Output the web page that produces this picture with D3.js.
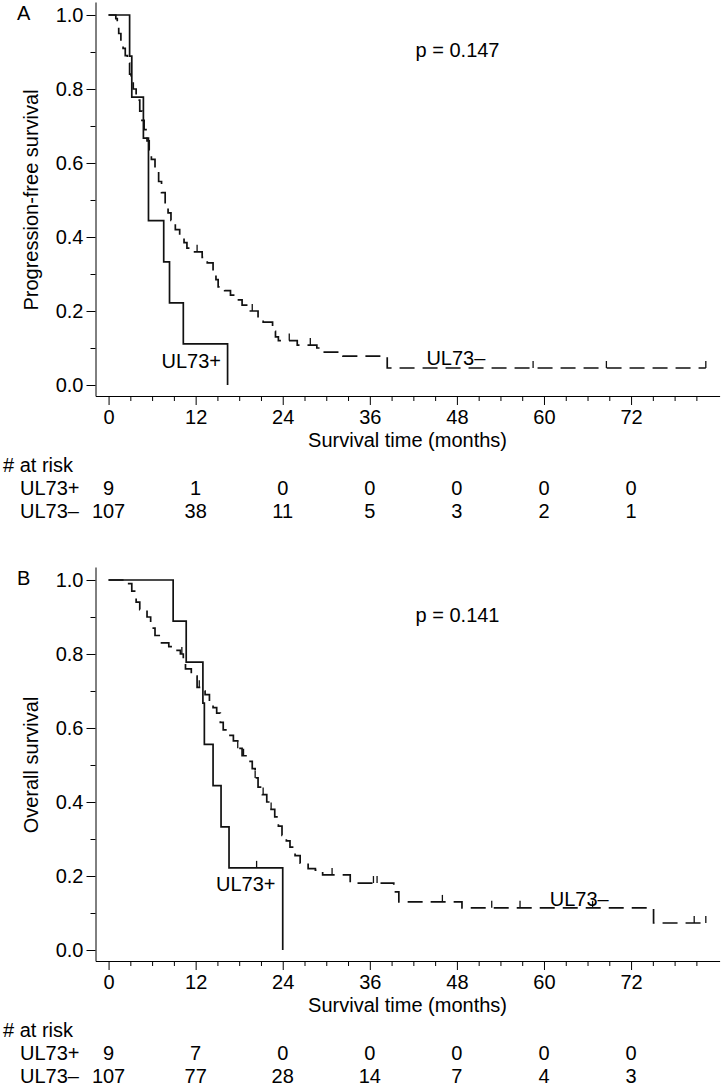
<!DOCTYPE html>
<html>
<head>
<meta charset="utf-8">
<script src="https://cdn.jsdelivr.net/npm/d3@7"></script>
<style>
  html, body { margin: 0; padding: 0; background: #fff; }
  svg text { font-family: "Liberation Sans", Arial, Helvetica, sans-serif; fill: #000; }
</style>
</head>
<body>
<svg id="chart" width="722" height="1085"></svg>
<script>
// ---------------- DATA ----------------
const xMajorTicks = [0, 12, 24, 36, 48, 60, 72];
const yMajorTicks = [0, 0.2, 0.4, 0.6, 0.8, 1.0];
const groups = ["UL73+", "UL73\u2013"];

// Panel A: progression-free survival
const pfsPosTimes = [0, 2.9, 3.2, 4.8, 5.5, 5.5, 7.6, 8.4, 10.3, 16.4];
const pfsPosSurv  = [1, 0.889, 0.778, 0.667, 0.556, 0.444, 0.333, 0.222, 0.111, 0];
const pfsPosCensor = [];

const pfsNegTimes = [0, 1.0, 1.2, 1.4, 1.7, 2.0, 2.3, 2.6, 2.9, 3.1, 3.4, 3.8, 4.3, 4.6, 4.9, 5.3, 5.6, 5.9, 6.4, 6.9, 7.3, 7.8, 8.2, 8.6, 9.2, 9.8, 10.4, 10.8, 11.6, 12.9, 13.6, 14.4, 14.8, 15.1, 16.0, 16.8, 17.6, 18.4, 19.3, 20.6, 21.3, 22.6, 23.0, 23.4, 26.0, 28.7, 29.6, 32.3, 38.4, 82.3];
const pfsNegSurv  = [1, 0.99, 0.97, 0.95, 0.93, 0.91, 0.89, 0.87, 0.84, 0.82, 0.80, 0.77, 0.74, 0.715, 0.69, 0.66, 0.635, 0.61, 0.58, 0.55, 0.52, 0.49, 0.465, 0.445, 0.42, 0.40, 0.385, 0.37, 0.36, 0.345, 0.33, 0.305, 0.285, 0.265, 0.255, 0.243, 0.23, 0.216, 0.20, 0.18, 0.17, 0.145, 0.13, 0.12, 0.108, 0.10, 0.089, 0.078, 0.046, 0.046];
const pfsNegCensor = [12.2, 19.8, 24.9, 27.8, 58.5, 68.6, 82.3];

const pfsRiskPos = [9, 1, 0, 0, 0, 0, 0];
const pfsRiskNeg = [107, 38, 11, 5, 3, 2, 1];

// Panel B: overall survival
const osPosTimes = [0, 8.9, 10.7, 13.0, 13.2, 14.4, 15.5, 16.6, 24.0];
const osPosSurv  = [1, 0.889, 0.778, 0.667, 0.556, 0.444, 0.333, 0.222, 0];
const osPosCensor = [20.4];

const osNegTimes = [0, 2.6, 3.2, 3.8, 4.3, 5.3, 5.8, 6.4, 7.3, 8.3, 9.0, 9.9, 10.3, 10.6, 11.4, 12.2, 12.8, 13.3, 13.9, 14.4, 14.9, 15.4, 15.8, 16.4, 17.2, 17.8, 18.4, 19.1, 19.8, 20.2, 20.6, 21.2, 21.8, 22.4, 22.9, 23.4, 23.9, 24.5, 25.0, 25.7, 26.4, 27.5, 28.5, 29.5, 33.3, 39.3, 40.0, 48.7, 75.1, 82.3];
const osNegSurv  = [1, 0.99, 0.97, 0.94, 0.92, 0.90, 0.87, 0.85, 0.83, 0.82, 0.81, 0.80, 0.78, 0.76, 0.74, 0.71, 0.70, 0.69, 0.67, 0.655, 0.64, 0.615, 0.595, 0.58, 0.565, 0.545, 0.525, 0.51, 0.49, 0.465, 0.44, 0.42, 0.40, 0.38, 0.36, 0.335, 0.31, 0.295, 0.278, 0.255, 0.235, 0.22, 0.216, 0.203, 0.181, 0.157, 0.13, 0.114, 0.073, 0.073];
const osNegCensor = [10.1, 12.5, 17.8, 18.6, 20.2, 21.3, 22.4, 30.8, 36.5, 37.0, 46.0, 52.8, 56.7, 66.7, 80.7, 82.3];

const osRiskPos = [9, 7, 0, 0, 0, 0, 0];
const osRiskNeg = [107, 77, 28, 14, 7, 4, 3];

const panels = [
  { letter: "A", ylab: "Progression-free survival", p: "p = 0.147", oy: 0,
    pos: { t: pfsPosTimes, s: pfsPosSurv, c: pfsPosCensor, lab: [7.3, 0.046] },
    neg: { t: pfsNegTimes, s: pfsNegSurv, c: pfsNegCensor, lab: [43.8, 0.054] },
    risk: [pfsRiskPos, pfsRiskNeg] },
  { letter: "B", ylab: "Overall survival", p: "p = 0.141", oy: 565,
    pos: { t: osPosTimes, s: osPosSurv, c: osPosCensor, lab: [14.8, 0.159] },
    neg: { t: osNegTimes, s: osNegSurv, c: osNegCensor, lab: [60.8, 0.119] },
    risk: [osRiskPos, osRiskNeg] }
];

// ---------------- DRAW ----------------
const svg = d3.select("#chart");
const fs = 20;
const x = d3.scaleLinear().domain([-1.8, 84.2]).range([95.5, 719.6]);
const xMinor = d3.range(3, 84, 3).filter(v => v % 12 !== 0);
const yMinor = [0.1, 0.3, 0.5, 0.7, 0.9];

panels.forEach(P => {
  const g = svg.append("g").attr("transform", `translate(0,${P.oy})`);
  const y = d3.scaleLinear().domain([-0.0297, 1.0351]).range([396, 2]);

  // x axis
  g.append("g").attr("transform", `translate(0,${y(-0.0297)})`)
    .call(d3.axisBottom(x).tickValues(xMajorTicks).tickSize(9).tickSizeOuter(0).tickPadding(5).tickFormat(d3.format("d")));
  g.append("g").attr("transform", `translate(0,${y(-0.0297)})`)
    .call(d3.axisBottom(x).tickValues(xMinor).tickSize(5).tickFormat(""))
    .select(".domain").remove();
  // y axis
  g.append("g").attr("transform", `translate(${x(-1.8)},0)`)
    .call(d3.axisLeft(y).tickValues(yMajorTicks).tickSize(9).tickSizeOuter(0).tickPadding(3).tickFormat(d3.format(".1f")));
  g.append("g").attr("transform", `translate(${x(-1.8)},0)`)
    .call(d3.axisLeft(y).tickValues(yMinor).tickSize(5).tickFormat(""))
    .select(".domain").remove();
  g.selectAll(".tick text").attr("font-size", fs).attr("font-family", '"Liberation Sans", Arial, sans-serif');
  g.selectAll(".domain, .tick line").attr("stroke", "#000").attr("stroke-width", 1);

  // curves
  const line = d3.line().x(d => x(d[0])).y(d => y(d[1])).curve(d3.curveStepAfter);
  const survAt = (c, t) => { let s = c.s[0]; c.t.forEach((tt, i) => { if (tt <= t) s = c.s[i]; }); return s; };

  [[P.neg, "15,8"], [P.pos, null]].forEach(([c, dash]) => {
    const pts = c.t.map((t, i) => [t, c.s[i]]);
    g.append("path").datum(pts).attr("d", line)
      .attr("fill", "none").attr("stroke", "#111").attr("stroke-width", 1.7)
      .attr("stroke-dasharray", dash);
    g.selectAll(null).data(c.c).enter().append("line")
      .attr("x1", d => x(d)).attr("x2", d => x(d))
      .attr("y1", d => y(survAt(c, d))).attr("y2", d => y(survAt(c, d)) - 7)
      .attr("stroke", "#111").attr("stroke-width", 1.3);
  });

  // group labels
  g.append("text").attr("x", x(P.pos.lab[0])).attr("y", y(P.pos.lab[1])).attr("font-size", fs).text(groups[0]);
  g.append("text").attr("x", x(P.neg.lab[0])).attr("y", y(P.neg.lab[1])).attr("font-size", fs).text(groups[1]);

  // p value
  g.append("text").attr("x", x(42.3)).attr("y", y(0.887)).attr("font-size", fs).text(P.p);

  // panel letter
  g.append("text").attr("x", 17).attr("y", 20).attr("font-size", fs).text(P.letter);

  // y label
  g.append("text").attr("transform", `translate(38,${y(0.5)}) rotate(-90)`)
    .attr("text-anchor", "middle").attr("font-size", fs).text(P.ylab);

  // x label
  g.append("text").attr("x", (x(-1.8) + x(84.2)) / 2).attr("y", 447)
    .attr("text-anchor", "middle").attr("font-size", fs).text("Survival time (months)");

  // risk table
  g.append("text").attr("x", 3).attr("y", 472).attr("font-size", fs).text("# at risk");
  P.risk.forEach((row, ri) => {
    const by = 495 + ri * 22.5;
    g.append("text").attr("x", 20).attr("y", by).attr("font-size", fs).text(groups[ri]);
    g.selectAll(null).data(row).enter().append("text")
      .attr("x", (d, i) => x(xMajorTicks[i])).attr("y", by)
      .attr("text-anchor", "middle").attr("font-size", fs).text(d => d);
  });
});
</script>
</body>
</html>
